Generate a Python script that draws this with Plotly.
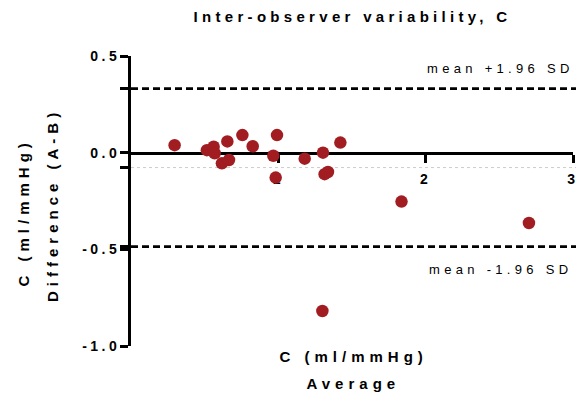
import plotly.graph_objects as go

# ---- data ----
avg_values = [0.296, 0.515, 0.561, 0.568, 0.654, 0.617, 0.665, 0.756, 0.826,
              0.991, 0.966, 0.982, 1.179, 1.303, 1.314, 1.337, 1.421, 1.836,
              2.701, 1.299]
diff_values = [0.039, 0.013, 0.031, -0.003, 0.058, -0.055, -0.038, 0.091, 0.033,
               0.091, -0.016, -0.129, -0.031, 0.000, -0.111, -0.100, 0.052, -0.253,
               -0.364, -0.819]
mean_bias = -0.077
loa_upper = 0.331
loa_lower = -0.486

x_tickvals = [1, 2, 3]
x_ticktext = ["1", "2", "3"]
y_tickvals = [0.5, loa_upper, 0.0, mean_bias, loa_lower, -0.5, -1.0]
y_ticktext = ["0.5", "", "0.0", "", "", "-0.5", "-1.0"]

title_text = "Inter-observer variability, C"
x_title = ["C (ml/mmHg)", "Average"]
y_title = ["C (ml/mmHg)", "Difference (A-B)"]
upper_label = "mean +1.96 SD"
lower_label = "mean -1.96 SD"

FONT = "Liberation Sans, Arial, sans-serif"
RED = "#a11d21"

fig = go.Figure()
fig.add_trace(go.Scatter(
    x=avg_values, y=diff_values, mode="markers",
    marker=dict(size=12.5, color=RED, line=dict(width=0)),
    showlegend=False, hoverinfo="skip"))

# limits of agreement and bias lines
fig.add_shape(type="line", xref="paper", yref="y", x0=0, x1=1.007,
              y0=loa_upper, y1=loa_upper, layer="below",
              line=dict(color="black", width=2.8, dash="7px,4px"))
fig.add_shape(type="line", xref="paper", yref="y", x0=0, x1=1.007,
              y0=loa_lower, y1=loa_lower, layer="below",
              line=dict(color="black", width=2.8, dash="7px,4px"))
fig.add_shape(type="line", xref="paper", yref="y", x0=0, x1=1.007,
              y0=mean_bias, y1=mean_bias, layer="below",
              line=dict(color="#cccccc", width=1, dash="dot"))

ann_font_b = dict(family=FONT, size=15, color="black", weight="bold")
ann_font_r = dict(family=FONT, size=13, color="black")
annotations = [
    dict(text=upper_label, xref="paper", yref="y", x=0.836, y=loa_upper,
         yshift=20, showarrow=False, xanchor="center", yanchor="middle", font=ann_font_r),
    dict(text=lower_label, xref="paper", yref="y", x=0.835, y=loa_lower,
         yshift=-23, showarrow=False, xanchor="center", yanchor="middle", font=ann_font_r),
    dict(text=x_title[0], xref="paper", yref="paper", x=0.5, y=0, xshift=1,
         yshift=-10, showarrow=False, xanchor="center", yanchor="middle", font=ann_font_b),
    dict(text=x_title[1], xref="paper", yref="paper", x=0.5, y=0, xshift=1,
         yshift=-37, showarrow=False, xanchor="center", yanchor="middle", font=ann_font_b),
    dict(text=y_title[0], xref="paper", yref="paper", x=0, y=0.5, xshift=-108,
         yshift=-12, textangle=-90, showarrow=False, xanchor="center",
         yanchor="middle", font=ann_font_b),
    dict(text=y_title[1], xref="paper", yref="paper", x=0, y=0.5, xshift=-79,
         yshift=-4, textangle=-90, showarrow=False, xanchor="center",
         yanchor="middle", font=ann_font_b),
]

fig.update_layout(
    width=576, height=394,
    margin=dict(l=131, r=3, t=56, b=48, pad=0, autoexpand=False),
    paper_bgcolor="white", plot_bgcolor="white",
    title=dict(text=title_text, x=0.612, xanchor="center", y=0.958,
               yanchor="middle", automargin=False,
               font=dict(family=FONT, size=15, color="black", weight="bold")),
    annotations=annotations,
    xaxis=dict(range=[0, 3], anchor="free", position=2/3, automargin=False,
               showgrid=False, zeroline=False, showline=True,
               linecolor="black", linewidth=2.8,
               tickmode="array", tickvals=x_tickvals, ticktext=x_ticktext,
               ticks="outside", ticklen=8, tickwidth=2.8, tickcolor="black",
               ticklabelstandoff=5, ticklabeloverflow="allow",
               tickfont=dict(family=FONT, size=14, color="black", weight="bold"),
               layer="below traces"),
    yaxis=dict(range=[-1.0, 0.5], domain=[0, 1], automargin=False,
               showgrid=False, zeroline=False, showline=True,
               linecolor="black", linewidth=2.8,
               tickmode="array", tickvals=y_tickvals, ticktext=y_ticktext,
               ticks="outside", ticklen=8, tickwidth=2.8, tickcolor="black",
               tickfont=dict(family=FONT, size=14, color="black", weight="bold"),
               layer="below traces"),
)

post = """
document.documentElement.style.margin='0';
document.documentElement.style.overflow='hidden';
document.body.style.margin='0';
document.body.style.padding='0';
document.body.style.overflow='hidden';
var gd=document.getElementById('{plot_id}');
function sp(sel,v){gd.querySelectorAll(sel).forEach(function(e){e.style.letterSpacing=v;});}
sp('.gtitle','4.3px');
sp('.xtick text','3.5px');
sp('.ytick text','3.5px');
gd.querySelectorAll('.ytick text').forEach(function(e){e.setAttribute('dx','3');});
var anns=gd.querySelectorAll('.annotation-text');
var lsp=['4.3px','4.3px','5px','5px','5px','5px'];
anns.forEach(function(e,i){e.style.letterSpacing=lsp[i]||'5px';});
"""

fig.write_html("out.html", post_script=post, config={"displayModeBar": False})
